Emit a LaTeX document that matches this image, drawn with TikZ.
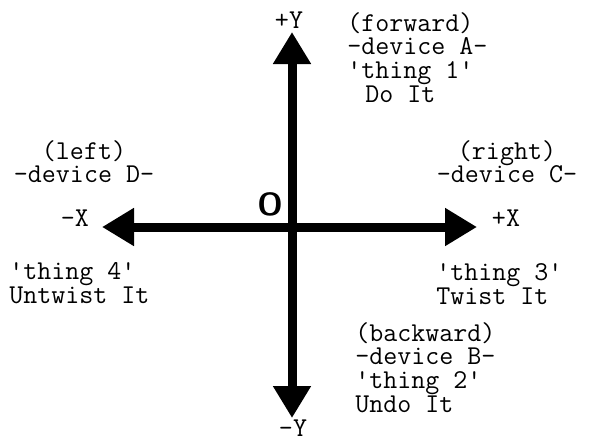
\documentclass[tikz,border=0pt]{standalone}
\usetikzlibrary{arrows.meta}
\begin{document}
\begin{tikzpicture}[
    x=0.5pt, y=-0.5pt,
    txt/.style={font=\ttfamily\fontsize{13.6}{11.85}\selectfont, inner sep=0pt,
        execute at begin node={\lineskiplimit=-20pt\relax}},
    axisline/.style={line width=4.5pt, {Triangle[length=16pt,width=18pt]}-{Triangle[length=16pt,width=18pt]}}
]
    \useasboundingbox (0,0) rectangle (589,436);
    \coordinate (ytop) at (292,32);
    \coordinate (ybot) at (292,418);
    \coordinate (xleft) at (102,227);
    \coordinate (xright) at (477,227);

    \node[txt] (py) at (289,20) {+Y};
    \node[txt] (my) at (293,428) {-Y};
    \node[txt] (mx) at (75,218) {-X};
    \node[txt] (px) at (506,218) {+X};
    \node[inner sep=0pt, font=\sffamily\bfseries\fontsize{16}{16}\selectfont] (origin) at (270,204) {O};

    \node[txt, anchor=north west, align=left] (fwd) at (347,12)
        {(forward)\\-device A-\\\textquotesingle thing 1\textquotesingle\\\hspace*{9pt}Do It};
    \node[txt, anchor=north, align=center] (right) at (507,140) {(right)\\-device C-};
    \node[txt, anchor=north, align=center] (left) at (84,140) {(left)\\-device D-};
    \node[txt, anchor=north west, align=left] (thr) at (436,263)
        {\textquotesingle thing 3\textquotesingle\\Twist It};
    \node[txt, anchor=north west, align=left] (fou) at (9,262)
        {\textquotesingle thing 4\textquotesingle\\Untwist It};
    \node[txt, anchor=north west, align=left] (bwd) at (355,322)
        {(backward)\\-device B-\\\textquotesingle thing 2\textquotesingle\\Undo It};

    \draw[axisline] (xleft) -- (xright);
    \draw[axisline] (ybot) -- (ytop);
\end{tikzpicture}
\end{document}
